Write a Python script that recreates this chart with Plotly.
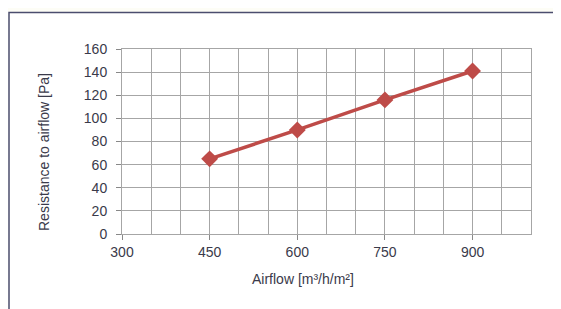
import plotly.graph_objects as go

airflow = [450, 600, 750, 900]
resistance = [65, 90, 116, 141]
x_ticks = [300, 450, 600, 750, 900]
y_ticks = [0, 20, 40, 60, 80, 100, 120, 140, 160]

OFF = 8  # page body margin
W, H = 561 - OFF, 309 - OFF
L, R, T, B = 122 - OFF, 531 - OFF, 49 - OFF, 234 - OFF

def px(x):
    return (x - OFF - L) / (R - L)

def py(y):
    return (B - (y - OFF)) / (B - T)

grid = "#a6a6a6"
txt = "#3a3a4a"
font = "Liberation Sans, Arial, sans-serif"

fig = go.Figure()
fig.add_trace(go.Scatter(
    x=airflow, y=resistance, mode="lines+markers",
    line=dict(color="#be4b48", width=3.5),
    marker=dict(symbol="diamond", size=13, color="#be4b48"),
    showlegend=False, cliponaxis=False,
))

fig.update_layout(
    width=W, height=H,
    margin=dict(l=L, r=W - R, t=T, b=H - B),
    paper_bgcolor="#fdfdf6",
    plot_bgcolor="white",
    font=dict(family=font, size=14, color=txt),
    xaxis=dict(
        range=[300, 1000], tickvals=x_ticks, ticktext=[str(v) for v in x_ticks],
        showgrid=True, gridcolor=grid, gridwidth=1,
        minor=dict(dtick=50, tick0=300, showgrid=True, gridcolor=grid, gridwidth=1),
        ticks="outside", ticklen=5, tickcolor="#888888",
        showline=True, linecolor=grid, mirror=True, zeroline=False,
        tickfont=dict(size=14, color=txt),
    ),
    yaxis=dict(
        range=[0, 160], tickvals=y_ticks,
        showgrid=True, gridcolor=grid, gridwidth=1,
        ticks="outside", ticklen=5, tickcolor="#888888",
        showline=True, linecolor=grid, mirror=True, zeroline=False,
        tickfont=dict(size=14, color=txt), ticklabelstandoff=6,
    ),
    shapes=[
        dict(type="rect", xref="paper", yref="paper",
             x0=px(9), x1=px(580), y0=py(330), y1=py(12.5),
             fillcolor="white", line=dict(color="#4b4d6e", width=1.5), layer="below"),
    ],
    annotations=[
        dict(text="Airflow [m³/h/m²]", xref="paper", yref="paper",
             x=px(303), y=py(279), showarrow=False,
             font=dict(size=14, color=txt), xanchor="center", yanchor="middle"),
        dict(text="Resistance to airflow [Pa]", xref="paper", yref="paper",
             x=px(44), y=py(152), showarrow=False, textangle=-90,
             font=dict(size=14, color=txt), xanchor="center", yanchor="middle"),
    ],
)

fig.write_html("out.html")
